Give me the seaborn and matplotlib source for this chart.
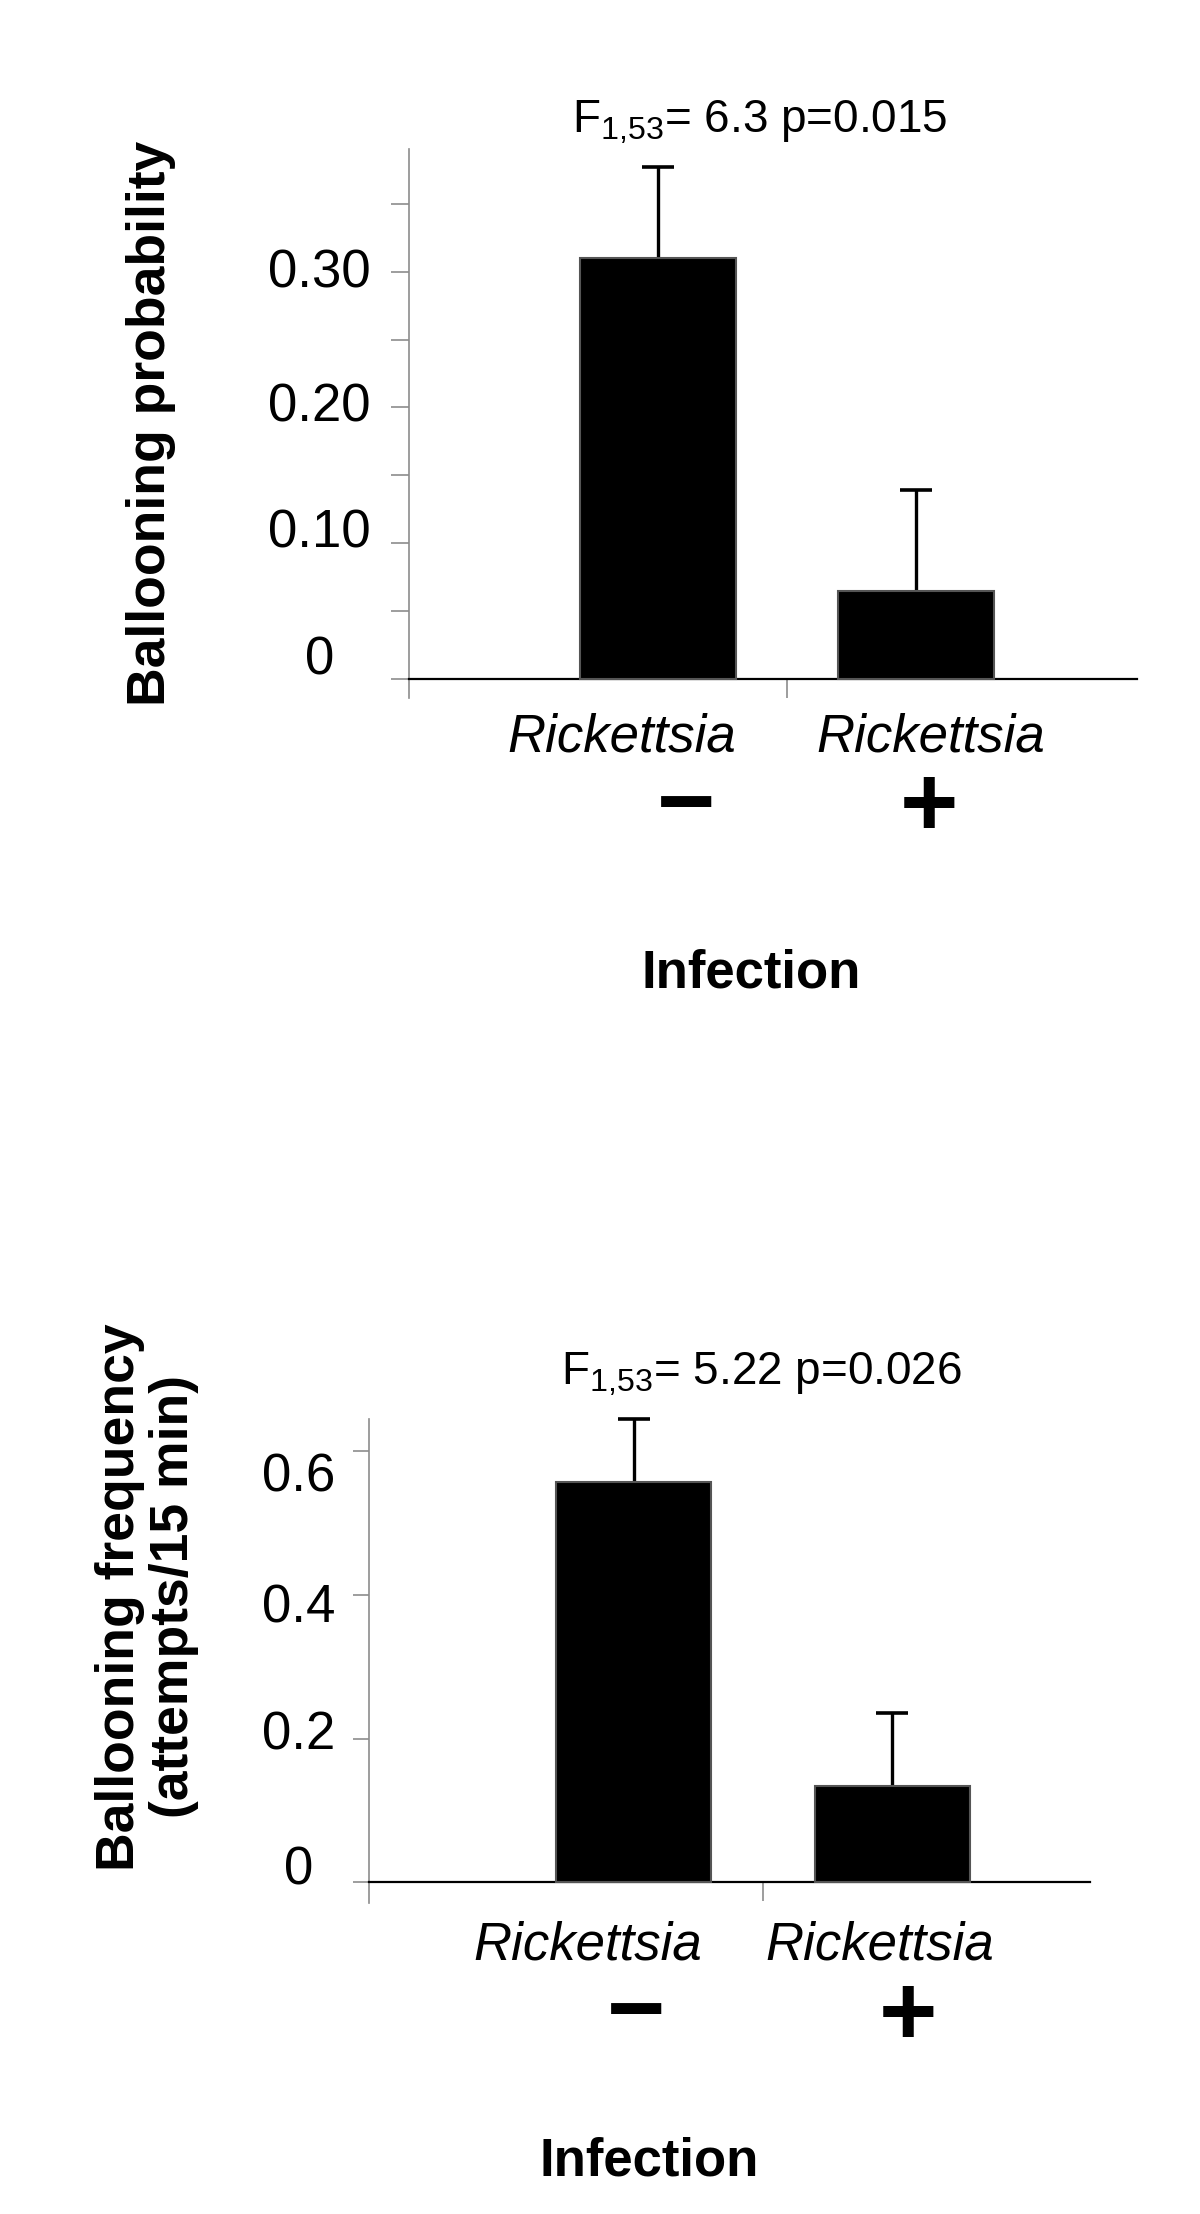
import numpy as np
import pandas as pd
import seaborn as sns
import matplotlib.pyplot as plt
import matplotlib.transforms as mtransforms

# --------------------------------------------------------------
# Data (means with upper standard-error bars)
# --------------------------------------------------------------
groups = ["Rickettsia −", "Rickettsia +"]
strain = ["Rickettsia", "Rickettsia"]
status = ["−", "+"]

prob_mean = [0.310, 0.065]
prob_se = [0.067, 0.074]
prob_ticks = [0, 0.10, 0.20, 0.30]
prob_ticklabels = ["0", "0.10", "0.20", "0.30"]
prob_minor = [0.05, 0.15, 0.25, 0.35]
prob_stat = r"F$_{\mathregular{1{,}53}}$= 6.3 p=0.015"

freq_mean = [0.557, 0.134]
freq_se = [0.088, 0.102]
freq_ticks = [0, 0.2, 0.4, 0.6]
freq_ticklabels = ["0", "0.2", "0.4", "0.6"]
freq_stat = r"F$_{\mathregular{1{,}53}}$= 5.22 p=0.026"

# --------------------------------------------------------------
# Style
# --------------------------------------------------------------
sns.set_theme(style="white")
plt.rcParams["font.family"] = ["Liberation Sans", "DejaVu Sans"]
plt.rcParams["mathtext.fontset"] = "custom"
plt.rcParams["mathtext.rm"] = "Liberation Sans"
plt.rcParams["text.color"] = "black"
plt.rcParams["axes.labelcolor"] = "black"
plt.rcParams["ytick.color"] = "black"

W, H = 1200, 2214
fig = plt.figure(figsize=(W / 100, H / 100), dpi=100)
fig.patch.set_facecolor("white")

AXIS_GREY = "#8c8c8c"


def box(left, top, right, bottom):
    return [left / W, 1 - bottom / H, (right - left) / W, (bottom - top) / H]


def fxy(x, y):
    return x / W, 1 - y / H


def panel(rect, means, ses, xlim, ylim, width, ticks, ticklabels, minor,
          ticklen, pad, label_shift):
    ax = fig.add_axes(rect)
    df = pd.DataFrame({"group": groups, "value": means})
    sns.barplot(data=df, x="group", y="value", color="black", saturation=1,
                width=width, edgecolor="#555555", linewidth=1.5,
                errorbar=None, ax=ax, zorder=3)
    eb = ax.errorbar(x=np.arange(len(groups)), y=means,
                     yerr=[np.zeros(len(ses)), ses], fmt="none",
                     ecolor="black", elinewidth=2.4, capsize=11.5,
                     capthick=2.6, zorder=2)
    for a in eb.get_children():
        a.set_clip_on(False)
    # only the upper cap is shown
    for cap in eb.lines[1]:
        if np.allclose(cap.get_ydata(), means):
            cap.set_visible(False)

    ax.set_xlim(*xlim)
    ax.set_ylim(*ylim)
    ax.set_xlabel("")
    ax.set_ylabel("")
    ax.set_facecolor("white")

    for s in ["top", "right"]:
        ax.spines[s].set_visible(False)
    ax.spines["bottom"].set_position(("data", 0))
    ax.spines["bottom"].set_color("black")
    ax.spines["bottom"].set_linewidth(1.6)
    ax.spines["left"].set_color(AXIS_GREY)
    ax.spines["left"].set_linewidth(1.2)

    ax.set_yticks(ticks)
    ax.set_yticklabels(ticklabels)
    if minor:
        ax.set_yticks(minor, minor=True)
    ax.tick_params(axis="y", which="both", left=True, direction="out",
                   length=ticklen, width=1.2, color=AXIS_GREY, pad=pad,
                   labelsize=38, labelcolor="black")
    # the original labels sit slightly off their tick marks
    for t, dy in zip(ax.get_yticklabels(), label_shift):
        t.set_ha("center")
        t.set_transform(t.get_transform() + mtransforms.ScaledTranslation(
            0, dy / 100, fig.dpi_scale_trans))

    ax.set_xticks([0.5])
    ax.set_xticklabels([""])
    ax.tick_params(axis="x", bottom=True, direction="out", length=14,
                   width=1.2, color=AXIS_GREY)
    return ax


# --------------------------------------------------------------
# Panel A: ballooning probability
# --------------------------------------------------------------
panel(box(409, 149, 1137, 698), prob_mean, prob_se,
      xlim=(-0.967, 1.86), ylim=(-0.014, 0.3904), width=0.606,
      ticks=prob_ticks, ticklabels=prob_ticklabels, minor=prob_minor,
      ticklen=12.7, pad=52, label_shift=[24, 15, 5, 4])

fig.text(*fxy(572, 133), prob_stat, fontsize=33, ha="left", va="baseline")
fig.text(*fxy(151, 423), "Ballooning probability", rotation=90,
         fontsize=38.5, fontweight="bold", ha="center", va="center")

for name, sign, (xn, yn), (xs, ys) in zip(
        strain, status, [(622, 737), (931, 737)], [(686, 809), (929, 810)]):
    fig.text(*fxy(xn, yn), name, fontsize=38, style="italic",
             ha="center", va="center")
    fig.text(*fxy(xs, ys), sign, fontsize=72, fontweight="bold",
             ha="center", va="center")

fig.text(*fxy(751, 973), "Infection", fontsize=38, fontweight="bold",
         ha="center", va="center")

# --------------------------------------------------------------
# Panel B: ballooning frequency
# --------------------------------------------------------------
panel(box(369, 1419, 1090, 1903), freq_mean, freq_se,
      xlim=(-1.024, 1.766), ylim=(-0.029, 0.645), width=0.6,
      ticks=freq_ticks, ticklabels=freq_ticklabels, minor=None,
      ticklen=11.5, pad=39, label_shift=[17, 9, -8, -21])

fig.text(*fxy(561, 1385), freq_stat, fontsize=33, ha="left", va="baseline")
fig.text(*fxy(147, 1597), "Ballooning frequency\n(attempts/15 min)",
         rotation=90, fontsize=38.5, fontweight="bold", ha="center",
         va="center", linespacing=1.12)

for name, sign, (xn, yn), (xs, ys) in zip(
        strain, status, [(588, 1946), (880, 1946)], [(636, 2016), (908, 2019)]):
    fig.text(*fxy(xn, yn), name, fontsize=38, style="italic",
             ha="center", va="center")
    fig.text(*fxy(xs, ys), sign, fontsize=72, fontweight="bold",
             ha="center", va="center")

fig.text(*fxy(649, 2161), "Infection", fontsize=38, fontweight="bold",
         ha="center", va="center")

fig.savefig("out.png", dpi=100, facecolor="white")
